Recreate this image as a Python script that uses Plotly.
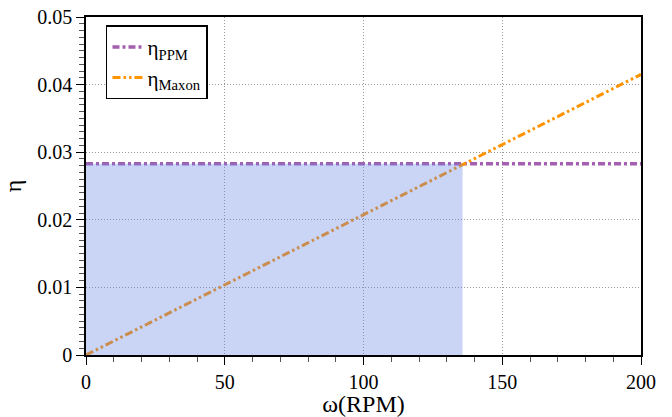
import plotly.graph_objects as go

omega = [0, 200]
eta_ppm = [0.0283, 0.0283]
eta_maxon = [0.0, 0.0415]
fill_omega = [0, 135.7]
fill_eta = [0.0283, 0.0283]

fig = go.Figure()
fig.add_trace(go.Scatter(x=omega, y=eta_ppm, mode="lines", name="η<sub>PPM</sub>",
                         line=dict(color="#a45fb0", width=3.5, dash="7px,3px,3px,3px")))
fig.add_trace(go.Scatter(x=omega, y=eta_maxon, mode="lines", name="η<sub>Maxon</sub>",
                         line=dict(color="#ff9400", width=3, dash="8px,3px,2.5px,3px,2.5px,3px")))
fig.add_trace(go.Scatter(x=fill_omega, y=fill_eta, mode="lines", fill="tozeroy",
                         fillcolor="rgba(100,130,225,0.34)", line=dict(width=0),
                         showlegend=False, hoverinfo="skip"))

font = "Liberation Serif"
fig.update_layout(
    width=672, height=417,
    margin=dict(l=86, r=31, t=17, b=62, autoexpand=False),
    paper_bgcolor="white", plot_bgcolor="white",
    font=dict(family=font, size=20, color="black"),
    legend=dict(x=0.036, y=0.975, xanchor="left", yanchor="top",
                bgcolor="white", bordercolor="black", borderwidth=1.5,
                font=dict(family=font, size=21), itemwidth=30, tracegroupgap=0),
)
fig.update_xaxes(range=[0, 200], dtick=50, showline=True, linecolor="black", linewidth=1.5,
                 mirror=True, ticks="outside", ticklen=8, tickcolor="black", automargin=False,
                 showgrid=True, gridcolor="#999", griddash="1px,2px", gridwidth=1,
                 zeroline=False, title=dict(text="ω(RPM)", standoff=4),
                 minor=dict(dtick=10, ticks="outside", ticklen=5, tickcolor="#555", showgrid=False))
fig.update_yaxes(range=[0, 0.05], dtick=0.01, showline=True, linecolor="black", linewidth=1.5,
                 mirror=True, ticks="outside", ticklen=8, tickcolor="black", automargin=False,
                 showgrid=True, gridcolor="#999", griddash="1px,2px", gridwidth=1,
                 zeroline=False, title=dict(text="η", standoff=10), tickformat="~g",
                 minor=dict(dtick=0.001, ticks="outside", ticklen=5, tickcolor="#555", showgrid=False))
fig.write_html("out.html")
